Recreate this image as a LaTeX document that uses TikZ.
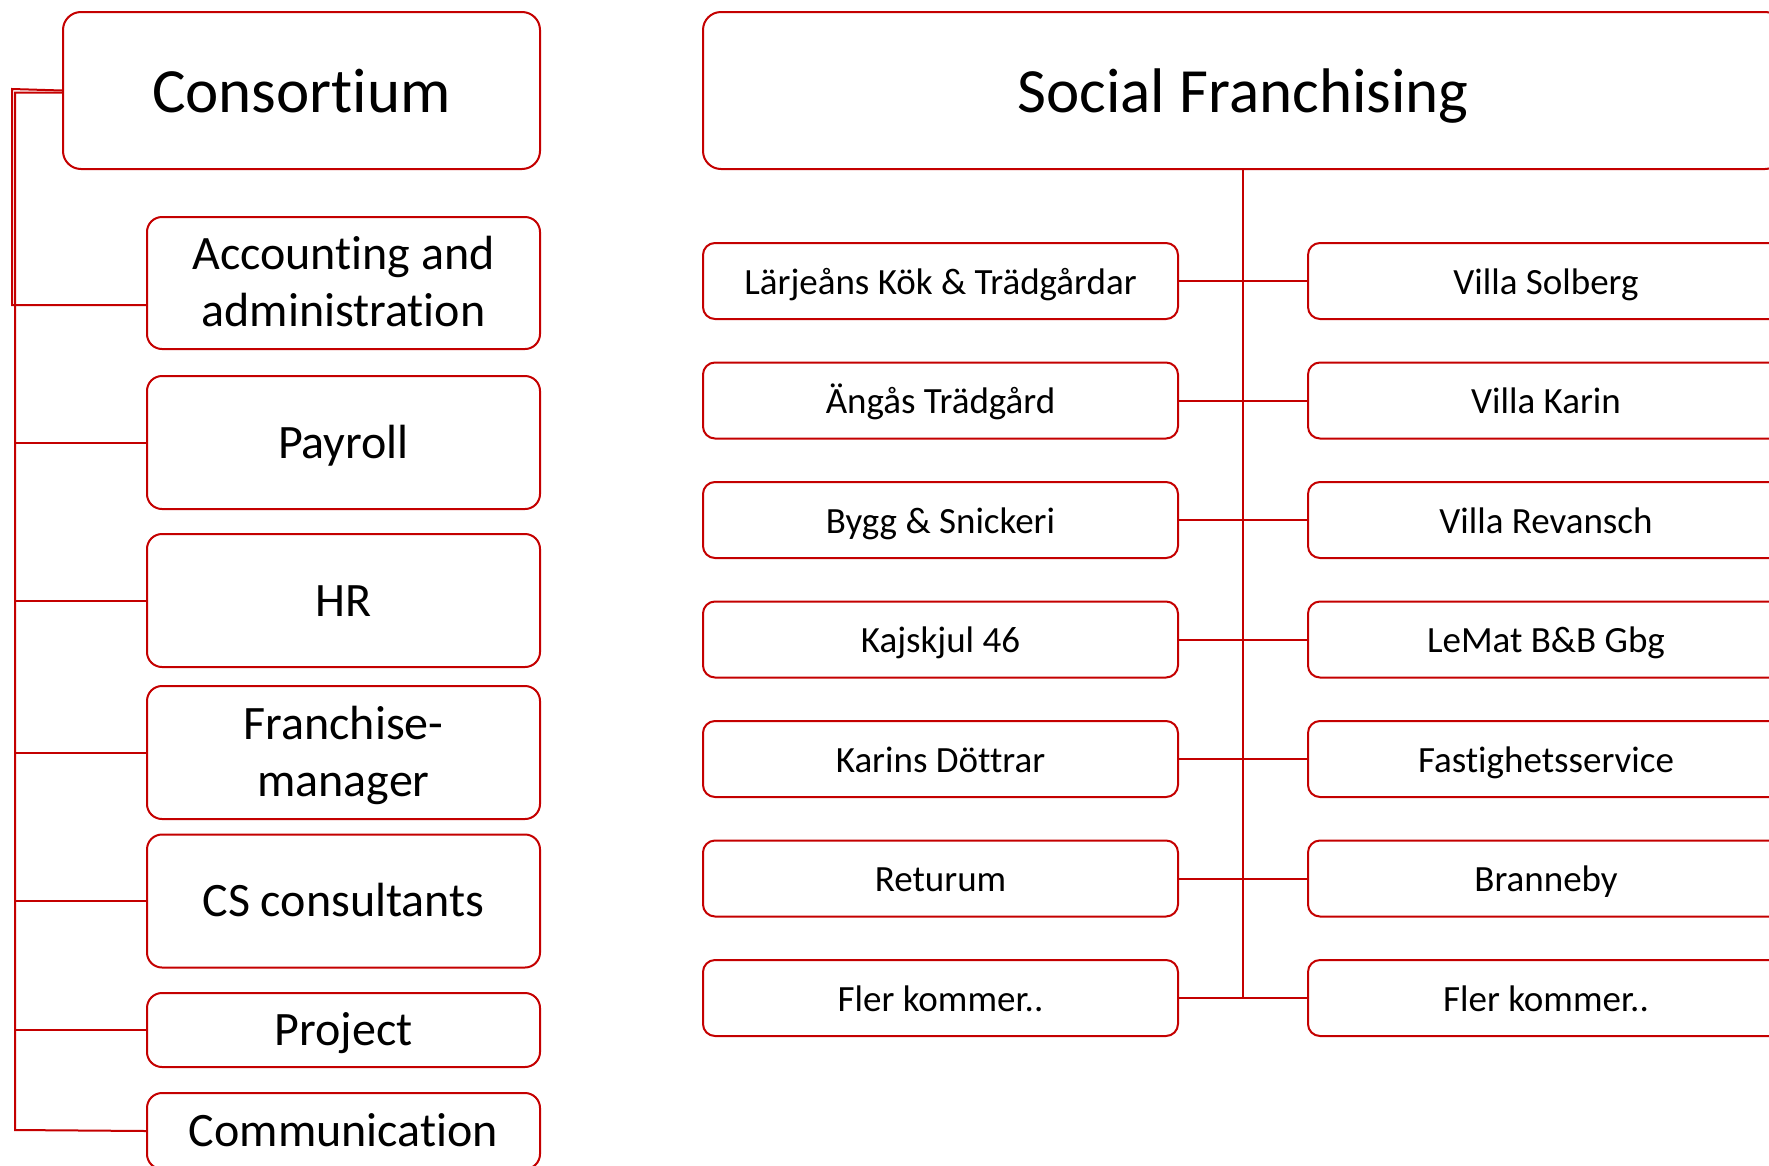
\documentclass[tikz,border=0pt]{standalone}
\usepackage{fontspec}
\setmainfont[Ligatures={NoCommon}]{Carlito}
\definecolor{sfred}{RGB}{196,0,0}
\newcommand{\twolines}[2]{\rule{0pt}{40pt}#1\\#2\rule[-10pt]{0pt}{10pt}}

\begin{document}
\begin{tikzpicture}[x=1pt, y=-1pt,
        box/.style = {draw=sfred, line width=2pt, rounded corners=12pt, align=center, inner sep=0pt, fill=white},
        headbox/.style = {box, rounded corners=18pt, minimum height=157, text height=49pt, text depth=6pt, font=\fontsize{63}{76}\selectfont},
        lbox/.style = {box, rounded corners=15pt, minimum width=393, minimum height=133, font=\fontsize{48}{57}\selectfont},
        lline/.style = {lbox, text height=36pt, text depth=5pt},
        rbox/.style = {box, minimum width=476, minimum height=76, text height=30pt, text depth=4pt, font=\fontsize{37}{44}\selectfont},
        link/.style = {draw=sfred, line width=2pt}]
    \useasboundingbox (0,0) rectangle (1769,1165);

    % Consortium side
    \node[headbox, minimum width=477] (cons) at (301.5,90.5) {Consortium};
    \node[lbox, minimum height=132] (acc) at (343.5,283) {\twolines{Accounting and}{administration}};
    \node[lline] (pay) at (343.5,442.5) {Payroll};
    \node[lline] (hr) at (343.5,600.5) {HR};
    \node[lbox] (fra) at (343.5,752.5) {\twolines{Franchise-}{manager}};
    \node[lline] (cs) at (343.5,901) {CS consultants};
    \node[lline, minimum height=74] (proj) at (343.5,1030) {Project};
    \node[lline, minimum height=76] (comm) at (343.5,1131) {Communication};

    \coordinate (ltop) at (12,89);
    \coordinate (lbot) at (15,1130);
    \draw[link] (cons.west) -- (ltop) |- ([yshift=-22pt]acc.west);
    \draw[link] ([yshift=-2pt]cons.west) -| (lbot) -- (comm.west);
    \foreach \n in {pay,hr,fra,cs,proj}
        \draw[link] (lbot |- \n.west) -- (\n.west);

    % Social Franchising side
    \node[headbox, minimum width=1080] (sf) at (1243,90.5) {Social Franchising};
    \foreach \i/\a/\b in {1/Lärjeåns Kök \& Trädgårdar/Villa Solberg,
                          2/Ängås Trädgård/Villa Karin,
                          3/Bygg \& Snickeri/Villa Revansch,
                          4/Kajskjul 46/LeMat B\&B Gbg,
                          5/Karins Döttrar/Fastighetsservice,
                          6/Returum/Branneby,
                          7/Fler kommer../Fler kommer..} {
        \node[rbox, minimum width=475] (l\i) at (940.5,{281+119.5*(\i-1)}) {\a};
        \node[rbox] (r\i) at (1546,{281+119.5*(\i-1)}) {\b};
    }
    \draw[link] (sf.south) -- (sf.south |- l7.east);
    \foreach \i in {1,...,7}
        \draw[link] (l\i.east) -- (r\i.west);
\end{tikzpicture}
\end{document}
